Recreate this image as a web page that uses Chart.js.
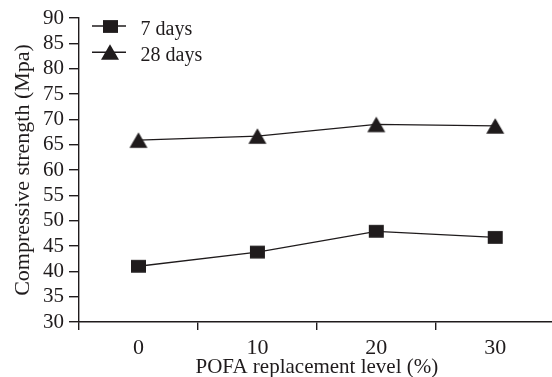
<!DOCTYPE html>
<html><head><meta charset="utf-8">
<script src="https://cdn.jsdelivr.net/npm/chart.js@4/dist/chart.umd.min.js"></script>
<style>html,body{margin:0;padding:0;background:#fff;overflow:hidden;width:552px;height:377px}canvas{display:block}</style>
</head><body>
<canvas id="c" width="564" height="380"></canvas>
<script>
const categories = ["0", "10", "20", "30"];
const days7 = [41.0, 43.8, 47.9, 46.7];
const days28 = [65.9, 66.7, 69.0, 68.7];
const seriesNames = ["7 days", "28 days"];
const yTicks = [30, 35, 40, 45, 50, 55, 60, 65, 70, 75, 80, 85, 90];

const INK = '#1f1b1c';
const FONT = 'Liberation Serif';

function markerImage(kind, w, h) {
  const c = document.createElement('canvas');
  c.width = Math.ceil(w) + 2; c.height = Math.ceil(h) + 2;
  const x = c.getContext('2d');
  x.fillStyle = INK;
  const ox = (c.width - w) / 2, oy = (c.height - h) / 2;
  x.beginPath();
  if (kind === 'square') {
    x.rect(ox, oy, w, h);
  } else {
    x.moveTo(ox + w / 2, oy);
    x.lineTo(ox + w, oy + h);
    x.lineTo(ox, oy + h);
    x.closePath();
  }
  x.fill();
  return c;
}
const squareImg = markerImage('square', 15, 12.8);
const triangleImg = markerImage('triangle', 18, 15.4);

const legendPlugin = {
  id: 'insideLegend',
  afterDraw(chart) {
    const ctx = chart.ctx;
    chart.data.datasets.forEach((ds, i) => {
      const y = 26 + i * 26.3;
      ctx.save();
      ctx.strokeStyle = ds.borderColor;
      ctx.lineWidth = 1.4;
      ctx.beginPath(); ctx.moveTo(92, y); ctx.lineTo(126, y); ctx.stroke();
      const img = ds.pointStyle;
      ctx.drawImage(img, Math.round(110 - img.width / 2), Math.round(y - img.height / 2));
      ctx.fillStyle = INK;
      ctx.font = '20px "' + FONT + '"';
      ctx.textBaseline = 'alphabetic';
      ctx.fillText(ds.label, 140.5, y + 9);
      ctx.restore();
    });
  }
};

new Chart(document.getElementById('c'), {
  type: 'line',
  data: {
    labels: categories,
    datasets: [
      {label: seriesNames[0], data: days7, borderColor: INK, backgroundColor: INK, borderWidth: 1.3, pointStyle: squareImg, pointRadius: 8, tension: 0},
      {label: seriesNames[1], data: days28, borderColor: INK, backgroundColor: INK, borderWidth: 1.3, pointStyle: triangleImg, pointRadius: 8, tension: 0}
    ]
  },
  options: {
    responsive: false,
    animation: false,
    layout: {padding: {top: 18, right: 1, left: 0, bottom: 0}},
    plugins: {legend: {display: false}, tooltip: {enabled: false}},
    scales: {
      x: {
        type: 'category',
        offset: true,
        grid: {display: true, offset: true, drawOnChartArea: false, drawTicks: true, tickLength: 8, color: INK, lineWidth: 1.4},
        border: {display: true, color: INK, width: 1.4},
        ticks: {color: INK, font: {family: FONT, size: 22}, padding: 5, maxRotation: 0, autoSkip: false},
        title: {display: true, text: 'POFA replacement level (%)', color: INK, font: {family: FONT, size: 21}, padding: {top: 0, bottom: 0}},
        afterFit(s) { s.height = 58; s.paddingLeft = 0; s.paddingRight = 0; }
      },
      y: {
        min: 30, max: 90,
        afterBuildTicks(s) { s.ticks = yTicks.map(v => ({value: v})); },
        grid: {display: true, drawOnChartArea: false, drawTicks: true, tickLength: 10, color: INK, lineWidth: 1.4},
        border: {display: true, color: INK, width: 1.4},
        ticks: {color: INK, font: {family: FONT, size: 21}, padding: 5, autoSkip: false},
        title: {display: true, text: 'Compressive strength (Mpa)', color: INK, font: {family: FONT, size: 22}, padding: {top: 10, bottom: 0}},
        afterFit(s) { s.width = 79; }
      }
    }
  },
  plugins: [legendPlugin]
});
</script>
</body></html>
